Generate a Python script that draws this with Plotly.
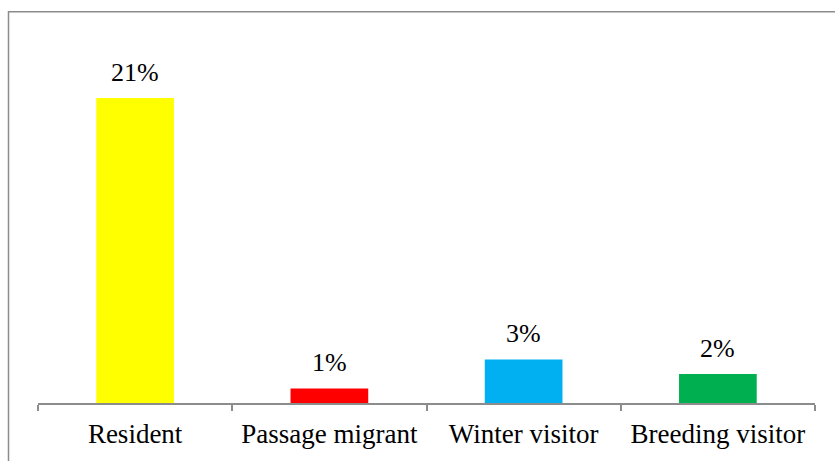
import plotly.graph_objects as go

categories = ["Resident", "Passage migrant", "Winter visitor", "Breeding visitor"]
values = [21, 1, 3, 2]
labels = ["21%", "1%", "3%", "2%"]
colors = ["#FFFF00", "#FF0000", "#00B0F0", "#00B050"]

FONT = "Liberation Serif, Times New Roman, serif"

fig = go.Figure()
fig.add_trace(go.Bar(
    x=categories, y=values, marker=dict(color=colors, line=dict(width=0)),
    width=0.4, hoverinfo="skip",
))

for c, v, t in zip(categories, values, labels):
    fig.add_annotation(x=c, y=v, text=t, showarrow=False, yanchor="bottom",
                       yshift=9, font=dict(family=FONT, size=26, color="black"))

fig.update_layout(
    width=835, height=461,
    margin=dict(l=38, r=20, t=40, b=56),
    paper_bgcolor="white", plot_bgcolor="white",
    showlegend=False,
    bargap=0.6,
    xaxis=dict(
        type="category", showline=True, linecolor="#8C8C8C", linewidth=1.5,
        ticks="outside", tickson="boundaries", ticklen=6, tickcolor="#8C8C8C",
        tickwidth=1.5, showgrid=False, ticklabelstandoff=6,
        tickfont=dict(family=FONT, size=27, color="black"),
    ),
    yaxis=dict(range=[0, 25], visible=False, showgrid=False, zeroline=False),
    shapes=[dict(type="rect", xref="paper", yref="paper",
                 x0=(8.5 - 38) / 777, x1=(840 - 38) / 777,
                 y0=-(470 - 405) / 365, y1=(405 - 11.5) / 365,
                 line=dict(color="#8C8C8C", width=1.5), layer="below")],
)

fig.write_html("out.html")
